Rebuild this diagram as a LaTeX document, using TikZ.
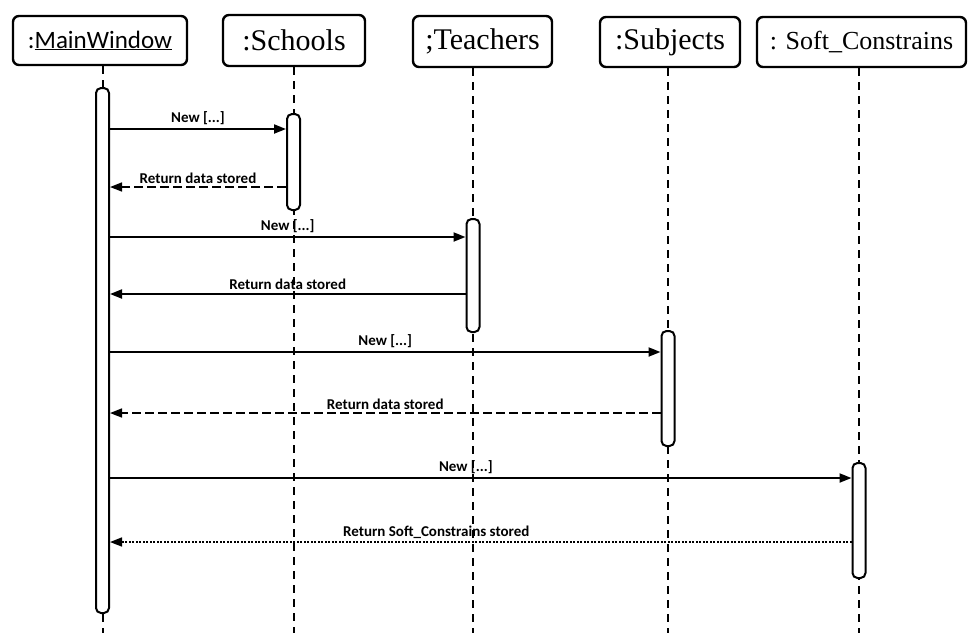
\documentclass[tikz,border=0pt]{standalone}
\usepackage{fontspec}
\setmainfont{Liberation Serif}
\newfontfamily\labfont{Carlito}
\usetikzlibrary{arrows.meta,backgrounds}
\begin{document}
\begin{tikzpicture}[x=1pt,y=-1pt,
  objbox/.style={draw,line width=2.4pt,rounded corners=6pt,inner sep=0pt,font=\fontsize{30}{32}\selectfont},
  actbar/.style={draw,line width=2pt,fill=white,rounded corners=5pt,minimum width=13pt,inner sep=0pt},
  life/.style={line width=2pt,dash pattern=on 8pt off 6pt},
  send/.style={line width=2pt,-{Triangle[length=12pt,width=9pt]}},
  reply/.style={line width=1.6pt,dash pattern=on 9pt off 4pt,-{Triangle[length=12pt,width=9pt]}},
  replysolid/.style={line width=2pt,-{Triangle[length=12pt,width=9pt]}},
  replydot/.style={line width=1.6pt,dash pattern=on 2pt off 1.5pt,-{Triangle[length=12pt,width=9pt]}},
  msg/.style={font=\labfont\bfseries\fontsize{15}{16}\selectfont,inner sep=3pt}]
\useasboundingbox (0,0) rectangle (969,633);

% object boxes
\node[objbox,minimum width=174pt,minimum height=49pt] (mw) at (100,40.5)
  {\labfont\fontsize{25}{27}\selectfont :\underline{MainWindow}};
\node[objbox,minimum width=142pt,minimum height=51pt] (sc) at (294,40.5) {:Schools};
\node[objbox,minimum width=139pt,minimum height=51pt] (te) at (482.5,41.5) {;Teachers};
\node[objbox,minimum width=140pt,minimum height=50pt] (su) at (670,42) {:Subjects};
\node[objbox,minimum width=209pt,minimum height=50pt,font=\fontsize{26}{28}\selectfont] (so) at (861.5,42) {: Soft\_Constrains};

% activation bars
\node[actbar,minimum height=525pt] (mwbar) at (102.5,350.5) {};
\node[actbar,minimum height=96pt]  (scbar) at (293.5,162) {};
\node[actbar,minimum height=113pt] (tebar) at (473,275.5) {};
\node[actbar,minimum height=115pt] (subar) at (668,388.5) {};
\node[actbar,minimum height=115pt] (sobar) at (859,520.5) {};

% lifelines
\begin{pgfonlayer}{background}
  \coordinate (bottom) at (0,633);
  \draw[life] (mwbar.north |- mw.south) -- (mwbar.north);
  \draw[life] (mwbar.south) -- (mwbar.south |- bottom);
  \draw[life] (scbar.north |- sc.south) -- (scbar.south |- bottom);
  \draw[life] (tebar.north |- te.south) -- (tebar.south |- bottom);
  \draw[life] (subar.north |- su.south) -- (subar.south |- bottom);
  \draw[life] (sobar.north |- so.south) -- (sobar.south |- bottom);
\end{pgfonlayer}

% messages
\coordinate (m1) at (0,129);
\coordinate (m2) at (0,187);
\coordinate (m3) at (0,237);
\coordinate (m4) at (0,294);
\coordinate (m5) at (0,352);
\coordinate (m6) at (0,413);
\coordinate (m7) at (0,478);
\coordinate (m8) at (0,542);

\draw[send] (mwbar.east |- m1) -- node[msg,above] {New [...]} (scbar.west |- m1);
\draw[reply] (scbar.west |- m2) -- node[msg,above] {Return data stored} (mwbar.east |- m2);
\draw[send] (mwbar.east |- m3) -- node[msg,above] {New [...]} (tebar.west |- m3);
\draw[replysolid] (tebar.west |- m4) -- node[msg,above] {Return data stored} (mwbar.east |- m4);
\draw[send] (mwbar.east |- m5) -- node[msg,above] {New [...]} (subar.west |- m5);
\draw[reply] (subar.west |- m6) -- node[msg,above] {Return data stored} (mwbar.east |- m6);
\draw[send] (mwbar.east |- m7) -- node[msg,above,pos=0.48] {New [...]} (sobar.west |- m7);
\draw[replydot] (sobar.west |- m8) -- node[msg,above,pos=0.56] {Return Soft\_Constrains stored} (mwbar.east |- m8);
\end{tikzpicture}
\end{document}
